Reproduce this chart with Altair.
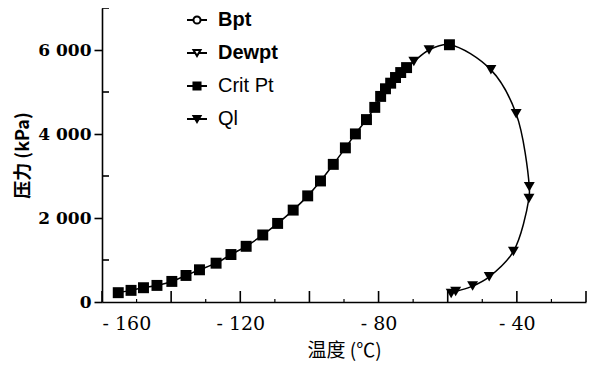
import altair as alt
import pandas as pd

# ---- data ----
bpt_t = [-155.3, -151.6, -148.0, -144.1, -139.8, -135.7, -131.8, -127.0, -122.7, -118.3,
         -113.5, -109.2, -104.7, -100.5, -96.8, -93.1, -89.6, -86.7, -83.5, -81.1,
         -79.4, -78.0, -76.5, -75.1, -73.6, -71.9]
bpt_p = [222, 277, 340, 395, 490, 632, 767, 924, 1130, 1326,
         1596, 1871, 2188, 2527, 2882, 3277, 3670, 4002, 4343, 4634,
         4895, 5077, 5210, 5345, 5463, 5581]
ql_t = [-69.8, -65.4]
ql_p = [5724, 6000]
crit_t = [-59.5]
crit_p = [6125]
dew_t = [-47.5, -40.2, -36.4, -36.5, -41.0, -48.0, -52.8, -57.7, -59.0]
dew_p = [5527, 4480, 2743, 2467, 1204, 600, 379, 248, 205]

legend_labels = ["Bpt", "Dewpt", "Crit Pt", "Ql"]
x_major = [-160, -140, -120, -100, -80, -60, -40, -20]
x_minor = [-150, -130, -110, -90, -70, -50, -30]
x_labels = [-160, -120, -80, -40]
y_labels = [0, 2000, 4000, 6000]
y_minor = [1000, 3000, 5000, 7000]

W, H = 484, 294

rows = []
for s, ts, ps in [("Bpt", bpt_t, bpt_p), ("Ql", ql_t, ql_p),
                  ("Crit Pt", crit_t, crit_p), ("Dewpt", dew_t, dew_p)]:
    for t, p in zip(ts, ps):
        rows.append({"series": s, "t": t, "p": p})
df = pd.DataFrame(rows)
df["order"] = range(len(df))

xs = alt.Scale(domain=[-160, -20], nice=False, zero=False)
ys = alt.Scale(domain=[0, 7000], nice=False)

cjk = "Noto Sans CJK SC"
serif = "DejaVu Serif"

base = alt.Chart(df)

line = base.mark_line(color="black", strokeWidth=1.5, interpolate="catmull-rom").encode(
    x=alt.X("t:Q", scale=xs,
            axis=alt.Axis(values=x_labels, ticks=False, tickSize=0, grid=False,
                          domainColor="black", domainWidth=1.6, labelPadding=12,
                          labelFont=serif, labelFontSize=19, labelColor="black",
                          labelExpr="datum.value < 0 ? '- ' + format(-datum.value, 'd') : format(datum.value, 'd')",
                          title="温度 (℃)", titleFont=cjk, titleFontSize=19,
                          titleFontWeight="normal", titleColor="black", titlePadding=8)),
    y=alt.Y("p:Q", scale=ys,
            axis=alt.Axis(values=y_labels, tickSize=8, tickWidth=1.6, tickColor="black",
                          grid=False, domainColor="black", domainWidth=1.6,
                          labelFont=serif, labelFontSize=17, labelColor="black",
                          labelFontWeight="bold", labelPadding=3,
                          labelExpr="datum.value == 0 ? '0' : replace(format(datum.value, ','), ',', ' ')",
                          title="压力 (kPa)", titleFont=cjk, titleFontSize=18,
                          titleFontWeight="bold", titleColor="black", titlePadding=5)),
    order="order:Q",
)

points = base.mark_point(filled=True, color="black", size=120, opacity=1).encode(
    x=alt.X("t:Q", scale=xs),
    y=alt.Y("p:Q", scale=ys),
    shape=alt.Shape("series:N",
                    scale=alt.Scale(domain=legend_labels,
                                    range=["square", "triangle-down", "square", "triangle-down"]),
                    legend=None),
)

xmaj = alt.Chart(pd.DataFrame({"t": x_major})).mark_rule(color="black", strokeWidth=1.6).encode(
    x=alt.X("t:Q", scale=xs), y=alt.value(H), y2=alt.value(H - 11))
xmin = alt.Chart(pd.DataFrame({"t": x_minor})).mark_rule(color="black", strokeWidth=1.2).encode(
    x=alt.X("t:Q", scale=xs), y=alt.value(H), y2=alt.value(H - 3))
ymin = alt.Chart(pd.DataFrame({"p": y_minor})).mark_rule(color="black", strokeWidth=1.6).encode(
    y=alt.Y("p:Q", scale=ys), x=alt.value(0), x2=alt.value(7))

plot = alt.layer(line, points, xmaj, xmin, ymin)

# ---- legend drawn inside the plot ----
ldf = pd.DataFrame({"label": legend_labels,
                    "bold": ["bold", "bold", "normal", "normal"]})
ly = alt.Y("label:N", scale=alt.Scale(type="point", domain=legend_labels,
                                       range=[12, 111], padding=0), axis=None)
lbase = alt.Chart(ldf)
lrule = lbase.mark_rule(color="black", strokeWidth=2).encode(
    y=ly, x=alt.value(85), x2=alt.value(105))
lpts = lbase.mark_point(color="black", opacity=1, strokeWidth=2).encode(
    y=ly, x=alt.value(95),
    shape=alt.Shape("label:N", scale=alt.Scale(domain=legend_labels,
                    range=["circle", "triangle-down", "square", "triangle-down"]), legend=None),
    fill=alt.Fill("label:N", scale=alt.Scale(domain=legend_labels,
                  range=["white", "white", "black", "black"]), legend=None),
    size=alt.Size("label:N", scale=alt.Scale(domain=legend_labels,
                  range=[50, 50, 110, 110]), legend=None),
)
ltxt_b = lbase.transform_filter("datum.bold == 'bold'").mark_text(
    align="left", baseline="middle", font="Liberation Sans", fontSize=20,
    fontWeight="bold", color="black").encode(y=ly, x=alt.value(116), text="label:N")
ltxt_n = lbase.transform_filter("datum.bold != 'bold'").mark_text(
    align="left", baseline="middle", font="Liberation Sans", fontSize=20,
    color="black").encode(y=ly, x=alt.value(116), text="label:N")
legend = alt.layer(lrule, lpts, ltxt_b, ltxt_n)

chart = alt.layer(plot, legend).resolve_scale(
    y="independent", shape="independent", fill="independent", size="independent"
).properties(
    width=W, height=H, background="white",
    autosize=alt.AutoSizeParams(type="none"),
    padding={"left": 94, "top": 0, "right": 4, "bottom": 66},
).configure_view(stroke=None)

chart.save("out.html", embed_options={"renderer": "svg", "actions": False})
